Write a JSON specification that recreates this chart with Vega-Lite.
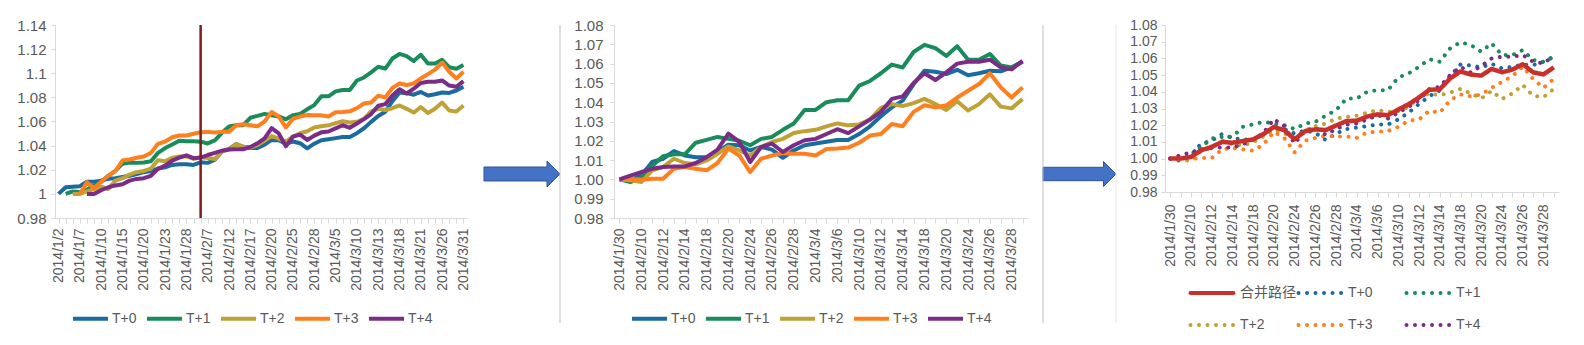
{
"$schema": "https://vega.github.io/schema/vega-lite/v6.json",
"background": "white",
"padding": {"left": 16, "top": 18, "right": 5, "bottom": 0},
"spacing": 11,
"config": {
  "view": {"stroke": null},
  "font": "Liberation Sans",
  "axis": {"labelFont": "Liberation Sans", "labelColor": "#595959", "domainColor": "#D9D9D9", "tickColor": "#D9D9D9", "grid": false, "title": null, "labelFontSize": 14},
  "legend": {"labelFont": "Liberation Sans, Noto Sans CJK SC", "labelColor": "#595959", "labelFontSize": 14}
},
"datasets": {
"p1": [
{"date":"2014/1/2","series":"T+0","value":1.0},
{"date":"2014/1/3","series":"T+0","value":1.0055},
{"date":"2014/1/6","series":"T+0","value":1.006},
{"date":"2014/1/7","series":"T+0","value":1.0064},
{"date":"2014/1/8","series":"T+0","value":1.01},
{"date":"2014/1/9","series":"T+0","value":1.01},
{"date":"2014/1/10","series":"T+0","value":1.011},
{"date":"2014/1/13","series":"T+0","value":1.0125},
{"date":"2014/1/14","series":"T+0","value":1.013},
{"date":"2014/1/15","series":"T+0","value":1.014},
{"date":"2014/1/16","series":"T+0","value":1.015},
{"date":"2014/1/17","series":"T+0","value":1.0165},
{"date":"2014/1/20","series":"T+0","value":1.018},
{"date":"2014/1/21","series":"T+0","value":1.019},
{"date":"2014/1/22","series":"T+0","value":1.021},
{"date":"2014/1/23","series":"T+0","value":1.022},
{"date":"2014/1/24","series":"T+0","value":1.024},
{"date":"2014/1/27","series":"T+0","value":1.0245},
{"date":"2014/1/28","series":"T+0","value":1.0245},
{"date":"2014/1/29","series":"T+0","value":1.024},
{"date":"2014/1/30","series":"T+0","value":1.0262},
{"date":"2014/2/7","series":"T+0","value":1.0257},
{"date":"2014/2/10","series":"T+0","value":1.0283},
{"date":"2014/2/11","series":"T+0","value":1.0354},
{"date":"2014/2/12","series":"T+0","value":1.0372},
{"date":"2014/2/13","series":"T+0","value":1.0413},
{"date":"2014/2/14","series":"T+0","value":1.039},
{"date":"2014/2/17","series":"T+0","value":1.038},
{"date":"2014/2/18","series":"T+0","value":1.038},
{"date":"2014/2/19","series":"T+0","value":1.0408},
{"date":"2014/2/20","series":"T+0","value":1.0447},
{"date":"2014/2/21","series":"T+0","value":1.0444},
{"date":"2014/2/24","series":"T+0","value":1.0416},
{"date":"2014/2/25","series":"T+0","value":1.0434},
{"date":"2014/2/26","series":"T+0","value":1.042},
{"date":"2014/2/27","series":"T+0","value":1.0377},
{"date":"2014/2/28","series":"T+0","value":1.0416},
{"date":"2014/3/3","series":"T+0","value":1.0444},
{"date":"2014/3/4","series":"T+0","value":1.0453},
{"date":"2014/3/5","series":"T+0","value":1.0462},
{"date":"2014/3/6","series":"T+0","value":1.0471},
{"date":"2014/3/7","series":"T+0","value":1.0471},
{"date":"2014/3/10","series":"T+0","value":1.0503},
{"date":"2014/3/11","series":"T+0","value":1.0544},
{"date":"2014/3/12","series":"T+0","value":1.0597},
{"date":"2014/3/13","series":"T+0","value":1.0645},
{"date":"2014/3/14","series":"T+0","value":1.0681},
{"date":"2014/3/17","series":"T+0","value":1.0769},
{"date":"2014/3/18","series":"T+0","value":1.084},
{"date":"2014/3/19","series":"T+0","value":1.0835},
{"date":"2014/3/20","series":"T+0","value":1.0822},
{"date":"2014/3/21","series":"T+0","value":1.0845},
{"date":"2014/3/24","series":"T+0","value":1.0816},
{"date":"2014/3/25","series":"T+0","value":1.0826},
{"date":"2014/3/26","series":"T+0","value":1.084},
{"date":"2014/3/27","series":"T+0","value":1.0837},
{"date":"2014/3/28","series":"T+0","value":1.0857},
{"date":"2014/3/31","series":"T+0","value":1.0888},
{"date":"2014/1/3","series":"T+1","value":1.0},
{"date":"2014/1/6","series":"T+1","value":1.002},
{"date":"2014/1/7","series":"T+1","value":1.0015},
{"date":"2014/1/8","series":"T+1","value":1.0035},
{"date":"2014/1/9","series":"T+1","value":1.007},
{"date":"2014/1/10","series":"T+1","value":1.01},
{"date":"2014/1/13","series":"T+1","value":1.015},
{"date":"2014/1/14","series":"T+1","value":1.019},
{"date":"2014/1/15","series":"T+1","value":1.025},
{"date":"2014/1/16","series":"T+1","value":1.026},
{"date":"2014/1/17","series":"T+1","value":1.0257},
{"date":"2014/1/20","series":"T+1","value":1.026},
{"date":"2014/1/21","series":"T+1","value":1.027},
{"date":"2014/1/22","series":"T+1","value":1.034},
{"date":"2014/1/23","series":"T+1","value":1.038},
{"date":"2014/1/24","series":"T+1","value":1.041},
{"date":"2014/1/27","series":"T+1","value":1.044},
{"date":"2014/1/28","series":"T+1","value":1.0437},
{"date":"2014/1/29","series":"T+1","value":1.0437},
{"date":"2014/1/30","series":"T+1","value":1.0433},
{"date":"2014/2/7","series":"T+1","value":1.0418},
{"date":"2014/2/10","series":"T+1","value":1.0443},
{"date":"2014/2/11","series":"T+1","value":1.0506},
{"date":"2014/2/12","series":"T+1","value":1.0558},
{"date":"2014/2/13","series":"T+1","value":1.0569},
{"date":"2014/2/14","series":"T+1","value":1.0569},
{"date":"2014/2/17","series":"T+1","value":1.0631},
{"date":"2014/2/18","series":"T+1","value":1.0647},
{"date":"2014/2/19","series":"T+1","value":1.0663},
{"date":"2014/2/20","series":"T+1","value":1.0652},
{"date":"2014/2/21","series":"T+1","value":1.0642},
{"date":"2014/2/24","series":"T+1","value":1.0618},
{"date":"2014/2/25","series":"T+1","value":1.0652},
{"date":"2014/2/26","series":"T+1","value":1.0663},
{"date":"2014/2/27","series":"T+1","value":1.0701},
{"date":"2014/2/28","series":"T+1","value":1.0736},
{"date":"2014/3/3","series":"T+1","value":1.0809},
{"date":"2014/3/4","series":"T+1","value":1.0809},
{"date":"2014/3/5","series":"T+1","value":1.085},
{"date":"2014/3/6","series":"T+1","value":1.0861},
{"date":"2014/3/7","series":"T+1","value":1.0861},
{"date":"2014/3/10","series":"T+1","value":1.094},
{"date":"2014/3/11","series":"T+1","value":1.0965},
{"date":"2014/3/12","series":"T+1","value":1.1007},
{"date":"2014/3/13","series":"T+1","value":1.1054},
{"date":"2014/3/14","series":"T+1","value":1.1038},
{"date":"2014/3/17","series":"T+1","value":1.1122},
{"date":"2014/3/18","series":"T+1","value":1.116},
{"date":"2014/3/19","series":"T+1","value":1.1142},
{"date":"2014/3/20","series":"T+1","value":1.1101},
{"date":"2014/3/21","series":"T+1","value":1.1153},
{"date":"2014/3/24","series":"T+1","value":1.108},
{"date":"2014/3/25","series":"T+1","value":1.108},
{"date":"2014/3/26","series":"T+1","value":1.1111},
{"date":"2014/3/27","series":"T+1","value":1.1049},
{"date":"2014/3/28","series":"T+1","value":1.1038},
{"date":"2014/3/31","series":"T+1","value":1.1069},
{"date":"2014/1/6","series":"T+2","value":1.0},
{"date":"2014/1/7","series":"T+2","value":1.0},
{"date":"2014/1/8","series":"T+2","value":1.002},
{"date":"2014/1/9","series":"T+2","value":1.004},
{"date":"2014/1/10","series":"T+2","value":1.006},
{"date":"2014/1/13","series":"T+2","value":1.004},
{"date":"2014/1/14","series":"T+2","value":1.011},
{"date":"2014/1/15","series":"T+2","value":1.013},
{"date":"2014/1/16","series":"T+2","value":1.016},
{"date":"2014/1/17","series":"T+2","value":1.018},
{"date":"2014/1/20","series":"T+2","value":1.019},
{"date":"2014/1/21","series":"T+2","value":1.021},
{"date":"2014/1/22","series":"T+2","value":1.028},
{"date":"2014/1/23","series":"T+2","value":1.027},
{"date":"2014/1/24","series":"T+2","value":1.03},
{"date":"2014/1/27","series":"T+2","value":1.031},
{"date":"2014/1/28","series":"T+2","value":1.031},
{"date":"2014/1/29","series":"T+2","value":1.029},
{"date":"2014/1/30","series":"T+2","value":1.0303},
{"date":"2014/2/7","series":"T+2","value":1.0298},
{"date":"2014/2/10","series":"T+2","value":1.0289},
{"date":"2014/2/11","series":"T+2","value":1.0351},
{"date":"2014/2/12","series":"T+2","value":1.0369},
{"date":"2014/2/13","series":"T+2","value":1.0413},
{"date":"2014/2/14","series":"T+2","value":1.0391},
{"date":"2014/2/17","series":"T+2","value":1.0383},
{"date":"2014/2/18","series":"T+2","value":1.0404},
{"date":"2014/2/19","series":"T+2","value":1.044},
{"date":"2014/2/20","series":"T+2","value":1.0479},
{"date":"2014/2/21","series":"T+2","value":1.0458},
{"date":"2014/2/24","series":"T+2","value":1.0431},
{"date":"2014/2/25","series":"T+2","value":1.0476},
{"date":"2014/2/26","series":"T+2","value":1.0503},
{"date":"2014/2/27","series":"T+2","value":1.0519},
{"date":"2014/2/28","series":"T+2","value":1.055},
{"date":"2014/3/3","series":"T+2","value":1.0561},
{"date":"2014/3/4","series":"T+2","value":1.0568},
{"date":"2014/3/5","series":"T+2","value":1.0586},
{"date":"2014/3/6","series":"T+2","value":1.0602},
{"date":"2014/3/7","series":"T+2","value":1.0591},
{"date":"2014/3/10","series":"T+2","value":1.0597},
{"date":"2014/3/11","series":"T+2","value":1.0622},
{"date":"2014/3/12","series":"T+2","value":1.0684},
{"date":"2014/3/13","series":"T+2","value":1.0705},
{"date":"2014/3/14","series":"T+2","value":1.0695},
{"date":"2014/3/17","series":"T+2","value":1.071},
{"date":"2014/3/18","series":"T+2","value":1.0733},
{"date":"2014/3/19","series":"T+2","value":1.0705},
{"date":"2014/3/20","series":"T+2","value":1.0674},
{"date":"2014/3/21","series":"T+2","value":1.072},
{"date":"2014/3/24","series":"T+2","value":1.0671},
{"date":"2014/3/25","series":"T+2","value":1.0705},
{"date":"2014/3/26","series":"T+2","value":1.0757},
{"date":"2014/3/27","series":"T+2","value":1.0691},
{"date":"2014/3/28","series":"T+2","value":1.0682},
{"date":"2014/3/31","series":"T+2","value":1.0733},
{"date":"2014/1/7","series":"T+3","value":1.0},
{"date":"2014/1/8","series":"T+3","value":1.0097},
{"date":"2014/1/9","series":"T+3","value":1.0047},
{"date":"2014/1/10","series":"T+3","value":1.01},
{"date":"2014/1/13","series":"T+3","value":1.015},
{"date":"2014/1/14","series":"T+3","value":1.019},
{"date":"2014/1/15","series":"T+3","value":1.0276},
{"date":"2014/1/16","series":"T+3","value":1.0285},
{"date":"2014/1/17","series":"T+3","value":1.03},
{"date":"2014/1/20","series":"T+3","value":1.031},
{"date":"2014/1/21","series":"T+3","value":1.034},
{"date":"2014/1/22","series":"T+3","value":1.0415},
{"date":"2014/1/23","series":"T+3","value":1.0434},
{"date":"2014/1/24","series":"T+3","value":1.047},
{"date":"2014/1/27","series":"T+3","value":1.0484},
{"date":"2014/1/28","series":"T+3","value":1.0484},
{"date":"2014/1/29","series":"T+3","value":1.0498},
{"date":"2014/1/30","series":"T+3","value":1.0511},
{"date":"2014/2/7","series":"T+3","value":1.0514},
{"date":"2014/2/10","series":"T+3","value":1.0509},
{"date":"2014/2/11","series":"T+3","value":1.0514},
{"date":"2014/2/12","series":"T+3","value":1.0514},
{"date":"2014/2/13","series":"T+3","value":1.0569},
{"date":"2014/2/14","series":"T+3","value":1.0578},
{"date":"2014/2/17","series":"T+3","value":1.0569},
{"date":"2014/2/18","series":"T+3","value":1.056},
{"date":"2014/2/19","series":"T+3","value":1.06},
{"date":"2014/2/20","series":"T+3","value":1.0679},
{"date":"2014/2/21","series":"T+3","value":1.0641},
{"date":"2014/2/24","series":"T+3","value":1.0551},
{"date":"2014/2/25","series":"T+3","value":1.0623},
{"date":"2014/2/26","series":"T+3","value":1.0641},
{"date":"2014/2/27","series":"T+3","value":1.0654},
{"date":"2014/2/28","series":"T+3","value":1.0651},
{"date":"2014/3/3","series":"T+3","value":1.0651},
{"date":"2014/3/4","series":"T+3","value":1.0641},
{"date":"2014/3/5","series":"T+3","value":1.0676},
{"date":"2014/3/6","series":"T+3","value":1.0679},
{"date":"2014/3/7","series":"T+3","value":1.0684},
{"date":"2014/3/10","series":"T+3","value":1.0711},
{"date":"2014/3/11","series":"T+3","value":1.075},
{"date":"2014/3/12","series":"T+3","value":1.0758},
{"date":"2014/3/13","series":"T+3","value":1.0813},
{"date":"2014/3/14","series":"T+3","value":1.08},
{"date":"2014/3/17","series":"T+3","value":1.0879},
{"date":"2014/3/18","series":"T+3","value":1.0915},
{"date":"2014/3/19","series":"T+3","value":1.0903},
{"date":"2014/3/20","series":"T+3","value":1.0915},
{"date":"2014/3/21","series":"T+3","value":1.0957},
{"date":"2014/3/24","series":"T+3","value":1.0993},
{"date":"2014/3/25","series":"T+3","value":1.103},
{"date":"2014/3/26","series":"T+3","value":1.1089},
{"date":"2014/3/27","series":"T+3","value":1.1012},
{"date":"2014/3/28","series":"T+3","value":1.0957},
{"date":"2014/3/31","series":"T+3","value":1.1012},
{"date":"2014/1/8","series":"T+4","value":1.0},
{"date":"2014/1/9","series":"T+4","value":1.0},
{"date":"2014/1/10","series":"T+4","value":1.003},
{"date":"2014/1/13","series":"T+4","value":1.0055},
{"date":"2014/1/14","series":"T+4","value":1.007},
{"date":"2014/1/15","series":"T+4","value":1.008},
{"date":"2014/1/16","series":"T+4","value":1.011},
{"date":"2014/1/17","series":"T+4","value":1.0124},
{"date":"2014/1/20","series":"T+4","value":1.013},
{"date":"2014/1/21","series":"T+4","value":1.015},
{"date":"2014/1/22","series":"T+4","value":1.0207},
{"date":"2014/1/23","series":"T+4","value":1.0235},
{"date":"2014/1/24","series":"T+4","value":1.0276},
{"date":"2014/1/27","series":"T+4","value":1.03},
{"date":"2014/1/28","series":"T+4","value":1.032},
{"date":"2014/1/29","series":"T+4","value":1.0296},
{"date":"2014/1/30","series":"T+4","value":1.0301},
{"date":"2014/2/7","series":"T+4","value":1.0322},
{"date":"2014/2/10","series":"T+4","value":1.034},
{"date":"2014/2/11","series":"T+4","value":1.0358},
{"date":"2014/2/12","series":"T+4","value":1.0367},
{"date":"2014/2/13","series":"T+4","value":1.037},
{"date":"2014/2/14","series":"T+4","value":1.037},
{"date":"2014/2/17","series":"T+4","value":1.0389},
{"date":"2014/2/18","series":"T+4","value":1.0419},
{"date":"2014/2/19","series":"T+4","value":1.046},
{"date":"2014/2/20","series":"T+4","value":1.0545},
{"date":"2014/2/21","series":"T+4","value":1.0501},
{"date":"2014/2/24","series":"T+4","value":1.0394},
{"date":"2014/2/25","series":"T+4","value":1.0474},
{"date":"2014/2/26","series":"T+4","value":1.0491},
{"date":"2014/2/27","series":"T+4","value":1.0447},
{"date":"2014/2/28","series":"T+4","value":1.0483},
{"date":"2014/3/3","series":"T+4","value":1.051},
{"date":"2014/3/4","series":"T+4","value":1.0517},
{"date":"2014/3/5","series":"T+4","value":1.0543},
{"date":"2014/3/6","series":"T+4","value":1.0569},
{"date":"2014/3/7","series":"T+4","value":1.0548},
{"date":"2014/3/10","series":"T+4","value":1.0584},
{"date":"2014/3/11","series":"T+4","value":1.062},
{"date":"2014/3/12","series":"T+4","value":1.0662},
{"date":"2014/3/13","series":"T+4","value":1.0731},
{"date":"2014/3/14","series":"T+4","value":1.0744},
{"date":"2014/3/17","series":"T+4","value":1.0816},
{"date":"2014/3/18","series":"T+4","value":1.0868},
{"date":"2014/3/19","series":"T+4","value":1.0832},
{"date":"2014/3/20","series":"T+4","value":1.0872},
{"date":"2014/3/21","series":"T+4","value":1.0919},
{"date":"2014/3/24","series":"T+4","value":1.0929},
{"date":"2014/3/25","series":"T+4","value":1.0929},
{"date":"2014/3/26","series":"T+4","value":1.094},
{"date":"2014/3/27","series":"T+4","value":1.0898},
{"date":"2014/3/28","series":"T+4","value":1.0888},
{"date":"2014/3/31","series":"T+4","value":1.0935}
],
"p2": [
{"date":"2014/1/30","series":"T+0","value":1.0},
{"date":"2014/2/7","series":"T+0","value":0.9995},
{"date":"2014/2/10","series":"T+0","value":1.002},
{"date":"2014/2/11","series":"T+0","value":1.009},
{"date":"2014/2/12","series":"T+0","value":1.0107},
{"date":"2014/2/13","series":"T+0","value":1.0147},
{"date":"2014/2/14","series":"T+0","value":1.0124},
{"date":"2014/2/17","series":"T+0","value":1.0115},
{"date":"2014/2/18","series":"T+0","value":1.0115},
{"date":"2014/2/19","series":"T+0","value":1.0142},
{"date":"2014/2/20","series":"T+0","value":1.018},
{"date":"2014/2/21","series":"T+0","value":1.0177},
{"date":"2014/2/24","series":"T+0","value":1.015},
{"date":"2014/2/25","series":"T+0","value":1.0168},
{"date":"2014/2/26","series":"T+0","value":1.0154},
{"date":"2014/2/27","series":"T+0","value":1.0112},
{"date":"2014/2/28","series":"T+0","value":1.015},
{"date":"2014/3/3","series":"T+0","value":1.0177},
{"date":"2014/3/4","series":"T+0","value":1.0186},
{"date":"2014/3/5","series":"T+0","value":1.0195},
{"date":"2014/3/6","series":"T+0","value":1.0204},
{"date":"2014/3/7","series":"T+0","value":1.0204},
{"date":"2014/3/10","series":"T+0","value":1.0235},
{"date":"2014/3/11","series":"T+0","value":1.0275},
{"date":"2014/3/12","series":"T+0","value":1.0327},
{"date":"2014/3/13","series":"T+0","value":1.0373},
{"date":"2014/3/14","series":"T+0","value":1.0408},
{"date":"2014/3/17","series":"T+0","value":1.0494},
{"date":"2014/3/18","series":"T+0","value":1.0563},
{"date":"2014/3/19","series":"T+0","value":1.0558},
{"date":"2014/3/20","series":"T+0","value":1.0546},
{"date":"2014/3/21","series":"T+0","value":1.0568},
{"date":"2014/3/24","series":"T+0","value":1.054},
{"date":"2014/3/25","series":"T+0","value":1.055},
{"date":"2014/3/26","series":"T+0","value":1.0563},
{"date":"2014/3/27","series":"T+0","value":1.056},
{"date":"2014/3/28","series":"T+0","value":1.058},
{"date":"2014/3/31","series":"T+0","value":1.061},
{"date":"2014/1/30","series":"T+1","value":1.0},
{"date":"2014/2/7","series":"T+1","value":0.9986},
{"date":"2014/2/10","series":"T+1","value":1.001},
{"date":"2014/2/11","series":"T+1","value":1.007},
{"date":"2014/2/12","series":"T+1","value":1.012},
{"date":"2014/2/13","series":"T+1","value":1.013},
{"date":"2014/2/14","series":"T+1","value":1.013},
{"date":"2014/2/17","series":"T+1","value":1.019},
{"date":"2014/2/18","series":"T+1","value":1.0205},
{"date":"2014/2/19","series":"T+1","value":1.022},
{"date":"2014/2/20","series":"T+1","value":1.021},
{"date":"2014/2/21","series":"T+1","value":1.02},
{"date":"2014/2/24","series":"T+1","value":1.0177},
{"date":"2014/2/25","series":"T+1","value":1.021},
{"date":"2014/2/26","series":"T+1","value":1.022},
{"date":"2014/2/27","series":"T+1","value":1.0257},
{"date":"2014/2/28","series":"T+1","value":1.029},
{"date":"2014/3/3","series":"T+1","value":1.036},
{"date":"2014/3/4","series":"T+1","value":1.036},
{"date":"2014/3/5","series":"T+1","value":1.04},
{"date":"2014/3/6","series":"T+1","value":1.041},
{"date":"2014/3/7","series":"T+1","value":1.041},
{"date":"2014/3/10","series":"T+1","value":1.0486},
{"date":"2014/3/11","series":"T+1","value":1.051},
{"date":"2014/3/12","series":"T+1","value":1.055},
{"date":"2014/3/13","series":"T+1","value":1.0595},
{"date":"2014/3/14","series":"T+1","value":1.058},
{"date":"2014/3/17","series":"T+1","value":1.066},
{"date":"2014/3/18","series":"T+1","value":1.0697},
{"date":"2014/3/19","series":"T+1","value":1.068},
{"date":"2014/3/20","series":"T+1","value":1.064},
{"date":"2014/3/21","series":"T+1","value":1.069},
{"date":"2014/3/24","series":"T+1","value":1.062},
{"date":"2014/3/25","series":"T+1","value":1.062},
{"date":"2014/3/26","series":"T+1","value":1.065},
{"date":"2014/3/27","series":"T+1","value":1.059},
{"date":"2014/3/28","series":"T+1","value":1.058},
{"date":"2014/3/31","series":"T+1","value":1.061},
{"date":"2014/1/30","series":"T+2","value":1.0},
{"date":"2014/2/7","series":"T+2","value":0.9995},
{"date":"2014/2/10","series":"T+2","value":0.9986},
{"date":"2014/2/11","series":"T+2","value":1.0047},
{"date":"2014/2/12","series":"T+2","value":1.0064},
{"date":"2014/2/13","series":"T+2","value":1.0107},
{"date":"2014/2/14","series":"T+2","value":1.0085},
{"date":"2014/2/17","series":"T+2","value":1.0078},
{"date":"2014/2/18","series":"T+2","value":1.0098},
{"date":"2014/2/19","series":"T+2","value":1.0133},
{"date":"2014/2/20","series":"T+2","value":1.0171},
{"date":"2014/2/21","series":"T+2","value":1.015},
{"date":"2014/2/24","series":"T+2","value":1.0124},
{"date":"2014/2/25","series":"T+2","value":1.0168},
{"date":"2014/2/26","series":"T+2","value":1.0194},
{"date":"2014/2/27","series":"T+2","value":1.021},
{"date":"2014/2/28","series":"T+2","value":1.024},
{"date":"2014/3/3","series":"T+2","value":1.025},
{"date":"2014/3/4","series":"T+2","value":1.0257},
{"date":"2014/3/5","series":"T+2","value":1.0275},
{"date":"2014/3/6","series":"T+2","value":1.029},
{"date":"2014/3/7","series":"T+2","value":1.028},
{"date":"2014/3/10","series":"T+2","value":1.0285},
{"date":"2014/3/11","series":"T+2","value":1.031},
{"date":"2014/3/12","series":"T+2","value":1.037},
{"date":"2014/3/13","series":"T+2","value":1.039},
{"date":"2014/3/14","series":"T+2","value":1.038},
{"date":"2014/3/17","series":"T+2","value":1.0395},
{"date":"2014/3/18","series":"T+2","value":1.0417},
{"date":"2014/3/19","series":"T+2","value":1.039},
{"date":"2014/3/20","series":"T+2","value":1.036},
{"date":"2014/3/21","series":"T+2","value":1.0405},
{"date":"2014/3/24","series":"T+2","value":1.0357},
{"date":"2014/3/25","series":"T+2","value":1.039},
{"date":"2014/3/26","series":"T+2","value":1.0441},
{"date":"2014/3/27","series":"T+2","value":1.0377},
{"date":"2014/3/28","series":"T+2","value":1.0368},
{"date":"2014/3/31","series":"T+2","value":1.0417},
{"date":"2014/1/30","series":"T+3","value":1.0},
{"date":"2014/2/7","series":"T+3","value":1.0003},
{"date":"2014/2/10","series":"T+3","value":0.9998},
{"date":"2014/2/11","series":"T+3","value":1.0003},
{"date":"2014/2/12","series":"T+3","value":1.0003},
{"date":"2014/2/13","series":"T+3","value":1.0055},
{"date":"2014/2/14","series":"T+3","value":1.0064},
{"date":"2014/2/17","series":"T+3","value":1.0055},
{"date":"2014/2/18","series":"T+3","value":1.0047},
{"date":"2014/2/19","series":"T+3","value":1.0085},
{"date":"2014/2/20","series":"T+3","value":1.016},
{"date":"2014/2/21","series":"T+3","value":1.0124},
{"date":"2014/2/24","series":"T+3","value":1.0038},
{"date":"2014/2/25","series":"T+3","value":1.0107},
{"date":"2014/2/26","series":"T+3","value":1.0124},
{"date":"2014/2/27","series":"T+3","value":1.0136},
{"date":"2014/2/28","series":"T+3","value":1.0133},
{"date":"2014/3/3","series":"T+3","value":1.0133},
{"date":"2014/3/4","series":"T+3","value":1.0124},
{"date":"2014/3/5","series":"T+3","value":1.0157},
{"date":"2014/3/6","series":"T+3","value":1.016},
{"date":"2014/3/7","series":"T+3","value":1.0165},
{"date":"2014/3/10","series":"T+3","value":1.019},
{"date":"2014/3/11","series":"T+3","value":1.0227},
{"date":"2014/3/12","series":"T+3","value":1.0235},
{"date":"2014/3/13","series":"T+3","value":1.0287},
{"date":"2014/3/14","series":"T+3","value":1.0275},
{"date":"2014/3/17","series":"T+3","value":1.035},
{"date":"2014/3/18","series":"T+3","value":1.0384},
{"date":"2014/3/19","series":"T+3","value":1.0373},
{"date":"2014/3/20","series":"T+3","value":1.0384},
{"date":"2014/3/21","series":"T+3","value":1.0424},
{"date":"2014/3/24","series":"T+3","value":1.0459},
{"date":"2014/3/25","series":"T+3","value":1.0494},
{"date":"2014/3/26","series":"T+3","value":1.055},
{"date":"2014/3/27","series":"T+3","value":1.0477},
{"date":"2014/3/28","series":"T+3","value":1.0424},
{"date":"2014/3/31","series":"T+3","value":1.0477},
{"date":"2014/1/30","series":"T+4","value":1.0},
{"date":"2014/2/7","series":"T+4","value":1.002},
{"date":"2014/2/10","series":"T+4","value":1.0038},
{"date":"2014/2/11","series":"T+4","value":1.0055},
{"date":"2014/2/12","series":"T+4","value":1.0064},
{"date":"2014/2/13","series":"T+4","value":1.0067},
{"date":"2014/2/14","series":"T+4","value":1.0067},
{"date":"2014/2/17","series":"T+4","value":1.0085},
{"date":"2014/2/18","series":"T+4","value":1.0115},
{"date":"2014/2/19","series":"T+4","value":1.0154},
{"date":"2014/2/20","series":"T+4","value":1.0237},
{"date":"2014/2/21","series":"T+4","value":1.0194},
{"date":"2014/2/24","series":"T+4","value":1.009},
{"date":"2014/2/25","series":"T+4","value":1.0168},
{"date":"2014/2/26","series":"T+4","value":1.0185},
{"date":"2014/2/27","series":"T+4","value":1.0142},
{"date":"2014/2/28","series":"T+4","value":1.0177},
{"date":"2014/3/3","series":"T+4","value":1.0203},
{"date":"2014/3/4","series":"T+4","value":1.021},
{"date":"2014/3/5","series":"T+4","value":1.0235},
{"date":"2014/3/6","series":"T+4","value":1.026},
{"date":"2014/3/7","series":"T+4","value":1.024},
{"date":"2014/3/10","series":"T+4","value":1.0275},
{"date":"2014/3/11","series":"T+4","value":1.031},
{"date":"2014/3/12","series":"T+4","value":1.035},
{"date":"2014/3/13","series":"T+4","value":1.0417},
{"date":"2014/3/14","series":"T+4","value":1.043},
{"date":"2014/3/17","series":"T+4","value":1.05},
{"date":"2014/3/18","series":"T+4","value":1.055},
{"date":"2014/3/19","series":"T+4","value":1.0515},
{"date":"2014/3/20","series":"T+4","value":1.0555},
{"date":"2014/3/21","series":"T+4","value":1.06},
{"date":"2014/3/24","series":"T+4","value":1.061},
{"date":"2014/3/25","series":"T+4","value":1.061},
{"date":"2014/3/26","series":"T+4","value":1.062},
{"date":"2014/3/27","series":"T+4","value":1.058},
{"date":"2014/3/28","series":"T+4","value":1.057},
{"date":"2014/3/31","series":"T+4","value":1.0615}
],
"merged": [
{"date":"2014/1/30","series":"合并路径","value":1.0},
{"date":"2014/2/7","series":"合并路径","value":1.0},
{"date":"2014/2/10","series":"合并路径","value":1.001},
{"date":"2014/2/11","series":"合并路径","value":1.005},
{"date":"2014/2/12","series":"合并路径","value":1.007},
{"date":"2014/2/13","series":"合并路径","value":1.01},
{"date":"2014/2/14","series":"合并路径","value":1.0095},
{"date":"2014/2/17","series":"合并路径","value":1.0105},
{"date":"2014/2/18","series":"合并路径","value":1.0115},
{"date":"2014/2/19","series":"合并路径","value":1.0147},
{"date":"2014/2/20","series":"合并路径","value":1.019},
{"date":"2014/2/21","series":"合并路径","value":1.017},
{"date":"2014/2/24","series":"合并路径","value":1.0116},
{"date":"2014/2/25","series":"合并路径","value":1.0164},
{"date":"2014/2/26","series":"合并路径","value":1.0175},
{"date":"2014/2/27","series":"合并路径","value":1.0171},
{"date":"2014/2/28","series":"合并路径","value":1.0198},
{"date":"2014/3/3","series":"合并路径","value":1.0225},
{"date":"2014/3/4","series":"合并路径","value":1.0227},
{"date":"2014/3/5","series":"合并路径","value":1.0252},
{"date":"2014/3/6","series":"合并路径","value":1.0265},
{"date":"2014/3/7","series":"合并路径","value":1.026},
{"date":"2014/3/10","series":"合并路径","value":1.0294},
{"date":"2014/3/11","series":"合并路径","value":1.0326},
{"date":"2014/3/12","series":"合并路径","value":1.0366},
{"date":"2014/3/13","series":"合并路径","value":1.0412},
{"date":"2014/3/14","series":"合并路径","value":1.0415},
{"date":"2014/3/17","series":"合并路径","value":1.048},
{"date":"2014/3/18","series":"合并路径","value":1.0522},
{"date":"2014/3/19","series":"合并路径","value":1.0503},
{"date":"2014/3/20","series":"合并路径","value":1.0497},
{"date":"2014/3/21","series":"合并路径","value":1.0537},
{"date":"2014/3/24","series":"合并路径","value":1.0517},
{"date":"2014/3/25","series":"合并路径","value":1.0533},
{"date":"2014/3/26","series":"合并路径","value":1.0565},
{"date":"2014/3/27","series":"合并路径","value":1.0517},
{"date":"2014/3/28","series":"合并路径","value":1.0504},
{"date":"2014/3/31","series":"合并路径","value":1.0546}
],
"deco": [{"item": "arrow"}],
"cut": [{"date": "2014/1/30"}]
},
"resolve": {"scale": {"x": "independent", "y": "independent", "color": "independent", "strokeDash": "independent"}, "legend": {"color": "independent", "strokeDash": "independent"}},
"hconcat": [
{
  "width": 412, "height": 193,
  "layer": [
    {
      "data": {"name": "p1"},
      "mark": {"type": "line", "strokeWidth": 4, "strokeJoin": "round"},
      "encoding": {
        "x": {"field": "date", "type": "ordinal",
          "scale": {"type": "point", "padding": 0.5, "domain": ["2014/1/2","2014/1/3","2014/1/6","2014/1/7","2014/1/8","2014/1/9","2014/1/10","2014/1/13","2014/1/14","2014/1/15","2014/1/16","2014/1/17","2014/1/20","2014/1/21","2014/1/22","2014/1/23","2014/1/24","2014/1/27","2014/1/28","2014/1/29","2014/1/30","2014/2/7","2014/2/10","2014/2/11","2014/2/12","2014/2/13","2014/2/14","2014/2/17","2014/2/18","2014/2/19","2014/2/20","2014/2/21","2014/2/24","2014/2/25","2014/2/26","2014/2/27","2014/2/28","2014/3/3","2014/3/4","2014/3/5","2014/3/6","2014/3/7","2014/3/10","2014/3/11","2014/3/12","2014/3/13","2014/3/14","2014/3/17","2014/3/18","2014/3/19","2014/3/20","2014/3/21","2014/3/24","2014/3/25","2014/3/26","2014/3/27","2014/3/28","2014/3/31"]},
          "axis": {"labelAngle": -90, "tickSize": 5, "labelPadding": 5, "labelExpr": "indexof(['2014/1/2','2014/1/7','2014/1/10','2014/1/15','2014/1/20','2014/1/23','2014/1/28','2014/2/7','2014/2/12','2014/2/17','2014/2/20','2014/2/25','2014/2/28','2014/3/5','2014/3/10','2014/3/13','2014/3/18','2014/3/21','2014/3/26','2014/3/31'], datum.value) >= 0 ? datum.value : ''"}},
        "y": {"field": "value", "type": "quantitative",
          "scale": {"domain": [0.98, 1.14], "zero": false, "nice": false},
          "axis": {"values": [0.98, 1.0, 1.02, 1.04, 1.06, 1.08, 1.1, 1.12, 1.14], "format": ".3~r", "tickSize": 4, "labelPadding": 5, "labelFontSize": 15}},
        "color": {"field": "series", "type": "nominal",
          "scale": {"domain": ["T+0","T+1","T+2","T+3","T+4"], "range": ["#1A6BA0","#1A8C5B","#BFA135","#FF7F1E","#7B2C87"]},
          "legend": {"title": null, "orient": "bottom", "direction": "horizontal", "columns": 5, "symbolType": "stroke", "symbolSize": 1225, "symbolStrokeWidth": 4, "labelOffset": 2, "columnPadding": 2, "padding": 16, "offset": -8}}
      }
    },
    {
      "data": {"name": "cut"},
      "mark": {"type": "rule", "color": "#7F1D1D", "strokeWidth": 2.5},
      "encoding": {"x": {"field": "date", "type": "ordinal"}}
    }
  ]
},
{
  "width": 76, "height": 298,
  "data": {"name": "deco"},
  "layer": [
    {"mark": {"type": "point", "shape": "M -1 -0.184 L 0.658 -0.184 L 0.658 -0.342 L 1 0 L 0.658 0.342 L 0.658 0.184 L -1 0.184 Z", "size": 5776, "filled": true, "fill": "#4472C4", "stroke": "#2F5597", "strokeWidth": 1, "opacity": 1}, "encoding": {}},
    {"mark": {"type": "rule", "color": "#BFBFBF", "strokeWidth": 1}, "encoding": {"x": {"value": "width"}}}
  ]
},
{
  "width": 414, "height": 193,
  "data": {"name": "p2"},
  "mark": {"type": "line", "strokeWidth": 4, "strokeJoin": "round"},
  "encoding": {
    "x": {"field": "date", "type": "ordinal",
      "scale": {"type": "point", "padding": 0.5, "domain": ["2014/1/30","2014/2/7","2014/2/10","2014/2/11","2014/2/12","2014/2/13","2014/2/14","2014/2/17","2014/2/18","2014/2/19","2014/2/20","2014/2/21","2014/2/24","2014/2/25","2014/2/26","2014/2/27","2014/2/28","2014/3/3","2014/3/4","2014/3/5","2014/3/6","2014/3/7","2014/3/10","2014/3/11","2014/3/12","2014/3/13","2014/3/14","2014/3/17","2014/3/18","2014/3/19","2014/3/20","2014/3/21","2014/3/24","2014/3/25","2014/3/26","2014/3/27","2014/3/28","2014/3/31"]},
      "axis": {"labelAngle": -90, "tickSize": 5, "labelPadding": 5, "labelExpr": "indexof(['2014/1/30','2014/2/10','2014/2/12','2014/2/14','2014/2/18','2014/2/20','2014/2/24','2014/2/26','2014/2/28','2014/3/4','2014/3/6','2014/3/10','2014/3/12','2014/3/14','2014/3/18','2014/3/20','2014/3/24','2014/3/26','2014/3/28'], datum.value) >= 0 ? datum.value : ''"}},
    "y": {"field": "value", "type": "quantitative",
      "scale": {"domain": [0.98, 1.08], "zero": false, "nice": false},
      "axis": {"values": [0.98, 0.99, 1.0, 1.01, 1.02, 1.03, 1.04, 1.05, 1.06, 1.07, 1.08], "format": ".2f", "tickSize": 4, "labelPadding": 7, "labelFontSize": 15}},
    "color": {"field": "series", "type": "nominal",
      "scale": {"domain": ["T+0","T+1","T+2","T+3","T+4"], "range": ["#1A6BA0","#1A8C5B","#BFA135","#FF7F1E","#7B2C87"]},
      "legend": {"title": null, "orient": "bottom", "direction": "horizontal", "columns": 5, "symbolType": "stroke", "symbolSize": 1225, "symbolStrokeWidth": 4, "labelOffset": 2, "columnPadding": 2, "padding": 16, "offset": -8}}
  }
},
{
  "width": 73, "height": 298,
  "data": {"name": "deco"},
  "layer": [
    {"mark": {"type": "point", "shape": "M -1 -0.184 L 0.658 -0.184 L 0.658 -0.342 L 1 0 L 0.658 0.342 L 0.658 0.184 L -1 0.184 Z", "size": 5329, "filled": true, "fill": "#4472C4", "stroke": "#2F5597", "strokeWidth": 1, "opacity": 1}, "encoding": {}},
    {"mark": {"type": "rule", "color": "#BFBFBF", "strokeWidth": 1}, "encoding": {"x": {"value": 0}}},
    {"mark": {"type": "rule", "color": "#E8E8E8", "strokeWidth": 1}, "encoding": {"x": {"value": "width"}}}
  ]
},
{
  "width": 394, "height": 167,
  "encoding": {
    "x": {"field": "date", "type": "ordinal",
      "scale": {"type": "point", "padding": 0.5, "domain": ["2014/1/30","2014/2/7","2014/2/10","2014/2/11","2014/2/12","2014/2/13","2014/2/14","2014/2/17","2014/2/18","2014/2/19","2014/2/20","2014/2/21","2014/2/24","2014/2/25","2014/2/26","2014/2/27","2014/2/28","2014/3/3","2014/3/4","2014/3/5","2014/3/6","2014/3/7","2014/3/10","2014/3/11","2014/3/12","2014/3/13","2014/3/14","2014/3/17","2014/3/18","2014/3/19","2014/3/20","2014/3/21","2014/3/24","2014/3/25","2014/3/26","2014/3/27","2014/3/28","2014/3/31"]},
      "axis": {"labelAngle": -90, "tickSize": 5, "labelPadding": 7, "labelExpr": "indexof(['2014/1/30','2014/2/10','2014/2/12','2014/2/14','2014/2/18','2014/2/20','2014/2/24','2014/2/26','2014/2/28','2014/3/4','2014/3/6','2014/3/10','2014/3/12','2014/3/14','2014/3/18','2014/3/20','2014/3/24','2014/3/26','2014/3/28'], datum.value) >= 0 ? datum.value : ''"}},
    "y": {"field": "value", "type": "quantitative",
      "scale": {"domain": [0.98, 1.08], "zero": false, "nice": false},
      "axis": {"values": [0.98, 0.99, 1.0, 1.01, 1.02, 1.03, 1.04, 1.05, 1.06, 1.07, 1.08], "format": ".2f", "tickSize": 4, "labelPadding": 4, "labelFontSize": 14}},
    "color": {"field": "series", "type": "nominal",
      "scale": {"domain": ["合并路径","T+0","T+1","T+2","T+3","T+4"], "range": ["#C9302C","#1A6BA0","#1A8C5B","#BFA135","#FF7F1E","#7B2C87"]},
      "legend": {"title": null, "orient": "bottom", "direction": "horizontal", "columns": 3, "gridAlign": "all", "symbolType": "stroke", "symbolSize": 1850, "symbolStrokeWidth": 4, "labelOffset": 4, "columnPadding": -6, "rowPadding": -15, "padding": 23, "offset": -21, "encode": {"symbols": {"update": {"strokeCap": {"value": "round"}}}}}},
    "strokeDash": {"field": "series", "type": "nominal",
      "scale": {"domain": ["合并路径","T+0","T+1","T+2","T+3","T+4"], "range": [[1,0],[0.01,8.5],[0.01,8.5],[0.01,8.5],[0.01,8.5],[0.01,8.5]]},
      "legend": {"title": null, "orient": "bottom", "direction": "horizontal", "columns": 3, "gridAlign": "all", "symbolType": "stroke", "symbolSize": 1850, "symbolStrokeWidth": 4, "labelOffset": 4, "columnPadding": -6, "rowPadding": -15, "padding": 23, "offset": -21, "encode": {"symbols": {"update": {"strokeCap": {"value": "round"}}}}}}
  },
  "layer": [
    {"data": {"name": "p2"}, "mark": {"type": "line", "strokeWidth": 4, "strokeCap": "round", "strokeJoin": "round"}},
    {"data": {"name": "merged"}, "mark": {"type": "line", "strokeWidth": 4.5, "strokeJoin": "round"}}
  ]
}
]
}
